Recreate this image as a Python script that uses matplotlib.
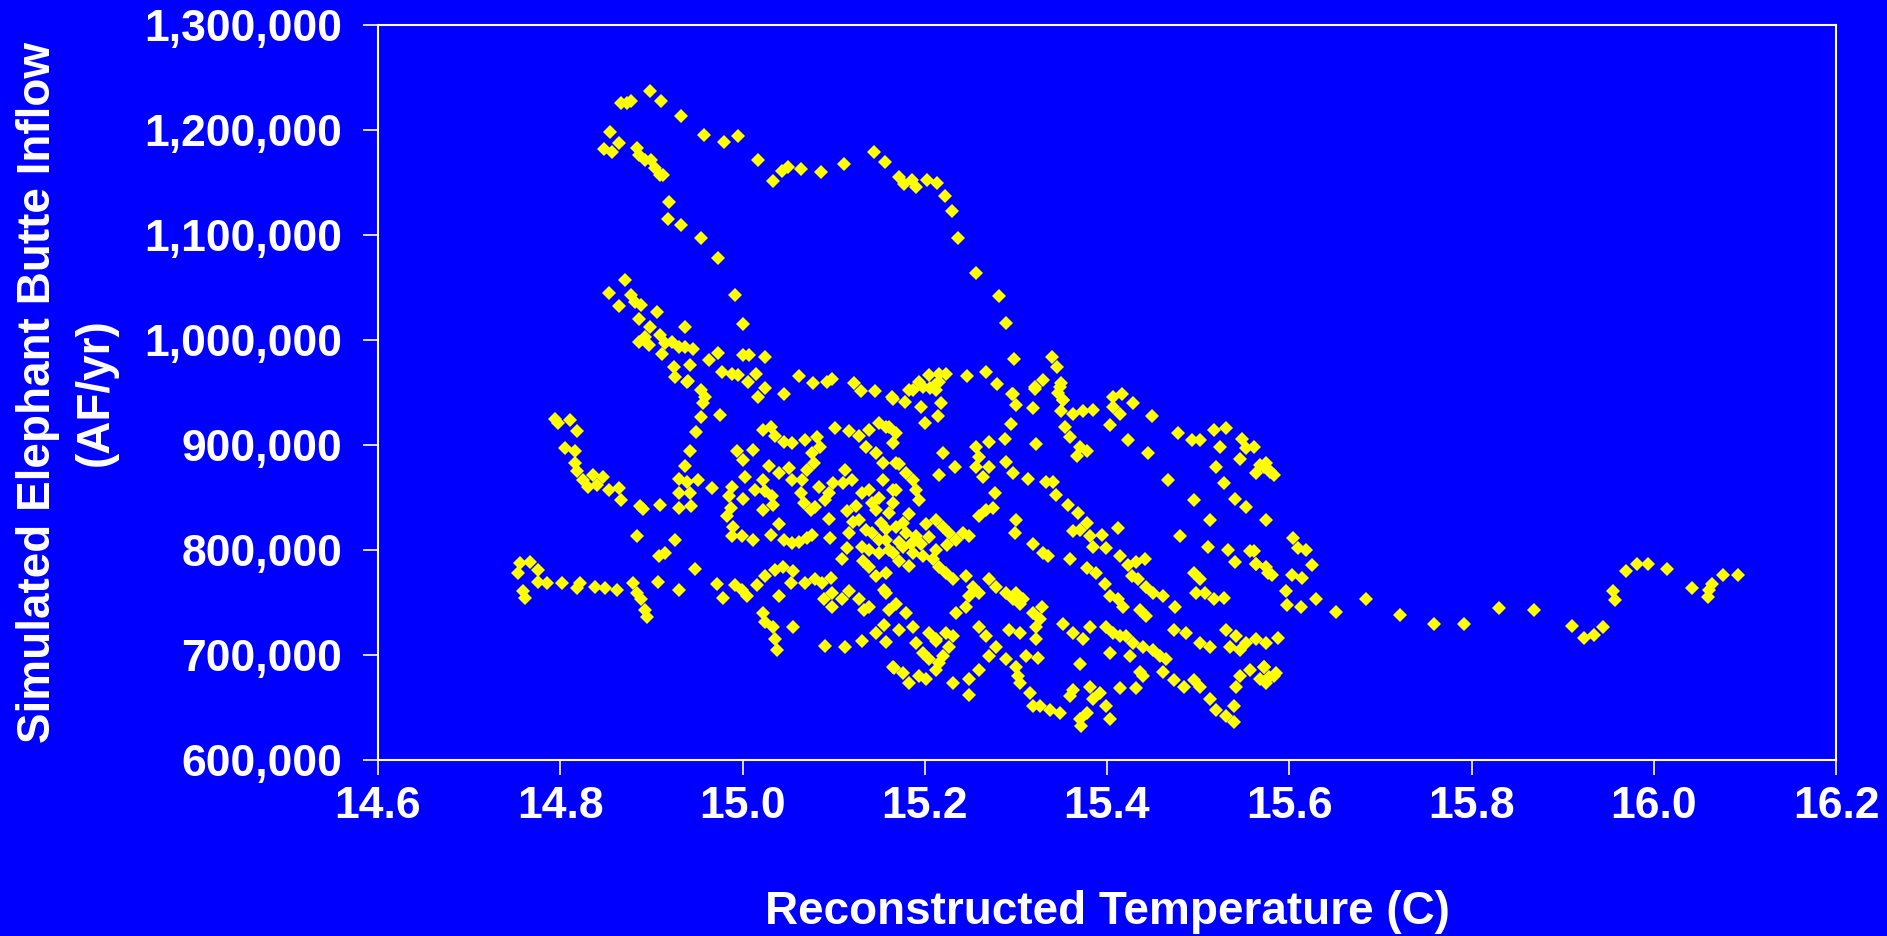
import matplotlib.pyplot as plt
from matplotlib.ticker import FuncFormatter

# reconstructed temperature (C), simulated inflow (thousand AF/yr)
upper_loop = [(14.899, 1237), (14.911, 1228), (14.867, 1226), (14.873, 1226), (14.878, 1228), (14.933, 1213),
              (14.958, 1195), (14.980, 1189), (14.995, 1194), (15.017, 1171), (15.034, 1151), (15.043, 1161),
              (15.050, 1165), (15.064, 1163), (15.086, 1160), (15.111, 1168), (15.144, 1179), (15.156, 1170),
              (15.172, 1155), (15.177, 1149), (15.186, 1152), (15.190, 1146), (15.203, 1152), (15.213, 1150),
              (15.222, 1137), (15.230, 1123), (15.236, 1097), (15.256, 1064), (15.281, 1042), (15.289, 1016),
              (15.298, 982)]
upper_left = [(14.855, 1198), (14.864, 1188), (14.848, 1182), (14.857, 1179), (14.884, 1183), (14.886, 1176),
              (14.893, 1171), (14.900, 1171), (14.904, 1164), (14.910, 1157), (14.913, 1157), (14.919, 1131),
              (14.918, 1115), (14.932, 1110), (14.954, 1097), (14.973, 1078), (14.992, 1043), (15.000, 1015)]
upper_mid = [(14.871, 1057), (14.854, 1045), (14.864, 1032), (14.878, 1043), (14.882, 1036), (14.889, 1033),
             (14.906, 1027), (14.886, 1020), (14.899, 1012), (14.893, 1003), (14.886, 998), (14.897, 995),
             (14.910, 1005), (14.915, 997), (14.923, 998), (14.930, 993), (14.937, 993), (14.946, 991),
             (14.912, 987), (14.937, 1012), (14.925, 974), (14.926, 965), (14.942, 976), (14.940, 961),
             (14.963, 981), (14.973, 988), (14.978, 970), (14.989, 968), (14.995, 967), (15.006, 960),
             (15.015, 968), (15.025, 984), (15.000, 986), (15.007, 986), (15.017, 946), (15.025, 954),
             (15.046, 949), (15.062, 966), (15.077, 959), (15.093, 960), (15.098, 963), (15.122, 959),
             (15.130, 951), (15.145, 951), (15.164, 946), (15.183, 952), (15.194, 960), (15.205, 967),
             (15.216, 968), (15.223, 968), (15.206, 954), (15.212, 952), (15.246, 966), (15.267, 970),
             (15.279, 958), (15.296, 949)]
ridge = [(15.340, 984), (15.345, 974), (15.330, 962), (15.321, 953), (15.350, 959), (15.346, 950), (15.352, 943)]
left_arm = [(14.794, 925), (14.798, 921), (14.811, 924), (14.818, 913), (14.805, 897), (14.816, 894),
            (14.816, 883), (14.818, 875), (14.825, 867), (14.831, 860), (14.836, 871), (14.840, 862),
            (14.847, 870), (14.854, 857), (14.864, 859), (14.867, 848), (14.888, 842), (14.891, 839),
            (14.909, 843)]
left_tail = [(14.756, 788), (14.767, 789), (14.754, 778), (14.776, 781), (14.776, 770), (14.785, 769),
             (14.802, 769), (14.818, 764), (14.822, 769), (14.838, 765), (14.849, 764), (14.862, 762),
             (14.759, 761), (14.761, 754), (14.880, 769), (14.884, 759), (14.889, 753), (14.893, 743),
             (14.895, 736)]
ring = [(14.939, 960), (14.954, 952), (14.959, 946), (14.957, 940), (14.955, 927), (14.975, 929), (14.949, 912),
        (14.942, 894), (14.937, 880), (14.930, 868), (14.939, 865), (14.951, 867), (14.930, 854), (14.942, 854),
        (14.944, 842), (14.930, 840), (14.966, 859), (14.884, 813), (14.926, 810), (14.908, 794), (14.915, 797),
        (14.948, 782), (14.907, 770), (14.930, 762), (14.972, 768), (14.979, 754),
        (14.988, 860), (14.985, 851), (14.987, 840), (14.983, 832), (14.990, 822), (14.988, 813), (14.999, 813),
        (15.012, 810), (14.994, 894), (15.011, 895), (15.001, 886), (15.003, 870), (15.001, 849), (15.014, 857),
        (15.025, 856), (15.032, 851), (15.034, 843), (15.023, 838), (15.022, 914), (15.031, 917), (15.036, 909),
        (15.045, 903), (15.054, 902), (15.069, 905), (15.082, 908), (15.085, 898), (15.076, 892), (15.078, 883),
        (15.071, 876), (15.065, 867), (15.064, 854), (15.067, 845), (15.075, 838), (15.080, 841), (15.029, 880),
        (15.023, 867), (15.040, 873), (15.051, 878), (15.054, 867), (15.040, 825), (15.031, 814), (15.045, 810),
        (15.054, 807), (15.062, 808), (15.071, 811), (15.076, 814), (15.095, 854), (15.099, 864), (15.084, 860),
        (15.090, 848), (15.095, 830), (15.110, 864), (15.096, 811), (15.109, 791), (15.115, 802), (15.117, 816),
        (15.121, 827), (15.115, 837)]
core = [(15.102, 916), (15.117, 913), (15.128, 909), (15.139, 914), (15.150, 921), (15.161, 917), (15.135, 898),
        (15.146, 892), (15.154, 883), (15.113, 876), (15.120, 867), (15.131, 854), (15.139, 857), (15.142, 845),
        (15.154, 867), (15.165, 857), (15.168, 883), (15.128, 829), (15.135, 819), (15.142, 816), (15.150, 810),
        (15.131, 803), (15.139, 800), (15.150, 797), (15.161, 800), (15.139, 784), (15.146, 775), (15.157, 778),
        (15.157, 917), (15.168, 911), (15.165, 902), (15.172, 882), (15.179, 873), (15.187, 867), (15.190, 857),
        (15.194, 848), (15.168, 857), (15.165, 845), (15.161, 835), (15.168, 822), (15.179, 816), (15.190, 813),
        (15.201, 825), (15.212, 829), (15.220, 822), (15.227, 816), (15.234, 810), (15.242, 816), (15.249, 813),
        (15.157, 810), (15.165, 797), (15.176, 803), (15.187, 797), (15.198, 794), (15.209, 791), (15.216, 784),
        (15.223, 778), (15.231, 772), (15.245, 775), (15.253, 765), (15.260, 759), (15.271, 772), (15.278, 765),
        (15.289, 759), (15.300, 759), (15.308, 753),
        (15.146, 838), (15.152, 826), (15.158, 820), (15.172, 808), (15.176, 826), (15.183, 834),
        (15.185, 806), (15.196, 806), (15.205, 812), (15.212, 800), (15.224, 805), (15.150, 850),
        (15.125, 842), (15.132, 790), (15.172, 790), (15.183, 785)]
low_center = [(14.992, 767), (14.999, 762), (15.005, 756), (15.016, 767), (15.025, 775), (15.036, 781),
              (15.044, 784), (15.040, 756), (15.022, 740), (15.025, 731), (15.033, 727), (15.036, 715),
              (15.038, 705), (15.055, 727), (15.055, 780), (15.053, 769), (15.069, 769), (15.080, 772),
              (15.087, 769), (15.097, 773), (15.098, 759), (15.089, 753), (15.098, 746), (15.109, 753),
              (15.117, 761), (15.128, 753), (15.133, 743), (15.139, 746), (15.155, 762), (15.161, 743),
              (15.146, 721), (15.131, 713), (15.157, 712), (15.113, 708), (15.091, 709), (15.166, 688),
              (15.155, 729)]
mid_top = [(15.165, 944), (15.178, 941), (15.196, 936), (15.200, 921), (15.214, 928), (15.218, 940),
           (15.187, 952), (15.198, 955), (15.211, 957), (15.216, 960), (15.297, 949), (15.300, 938),
           (15.319, 935), (15.321, 955), (15.348, 955), (15.352, 943), (15.350, 932), (15.363, 930),
           (15.374, 932), (15.385, 933), (15.354, 917), (15.359, 908), (15.370, 898), (15.378, 894),
           (15.367, 890), (15.407, 946), (15.416, 949), (15.429, 940), (15.407, 936), (15.414, 930),
           (15.403, 919), (15.449, 928), (15.423, 905), (15.445, 892)]
mid_diag = [(15.295, 920), (15.322, 901), (15.289, 884), (15.297, 873), (15.313, 868), (15.333, 865),
            (15.341, 865), (15.344, 852), (15.357, 843), (15.368, 835), (15.378, 826), (15.363, 818),
            (15.370, 819), (15.381, 813), (15.394, 814), (15.412, 821), (15.399, 802), (15.385, 803),
            (15.256, 898), (15.271, 903), (15.288, 906), (15.260, 889), (15.256, 879), (15.264, 870),
            (15.271, 879), (15.220, 892), (15.233, 879), (15.216, 871), (15.277, 854), (15.267, 838),
            (15.260, 832), (15.275, 840), (15.300, 829), (15.299, 816), (15.319, 806), (15.330, 797),
            (15.335, 794)]
mid_low = [(15.414, 794), (15.423, 786), (15.432, 789), (15.442, 791), (15.427, 775), (15.434, 772),
           (15.443, 765), (15.451, 759), (15.462, 756), (15.475, 746), (15.436, 743), (15.443, 737),
           (15.495, 778), (15.502, 772), (15.498, 759), (15.508, 759), (15.517, 753), (15.528, 754),
           (15.359, 791), (15.378, 783), (15.388, 778), (15.398, 768), (15.403, 756), (15.418, 746),
           (15.412, 753), (15.297, 753), (15.304, 749), (15.319, 740), (15.326, 734), (15.322, 727),
           (15.329, 746)]
right_arm = [(15.478, 911), (15.493, 905), (15.502, 905), (15.517, 914), (15.531, 916), (15.524, 898),
             (15.548, 906), (15.553, 897), (15.546, 887), (15.568, 881), (15.579, 875), (15.520, 879),
             (15.528, 864), (15.467, 867), (15.495, 848), (15.541, 849), (15.552, 841), (15.513, 829),
             (15.575, 829), (15.480, 813), (15.511, 803), (15.533, 800), (15.557, 799), (15.541, 789),
             (15.564, 787), (15.577, 778), (15.561, 898), (15.572, 879), (15.579, 874), (15.564, 873),
             (15.583, 871), (15.575, 883), (15.604, 811), (15.610, 802), (15.618, 800), (15.561, 799),
             (15.564, 787), (15.574, 784), (15.581, 776), (15.625, 786), (15.603, 776), (15.614, 773),
             (15.596, 761), (15.597, 748), (15.613, 746), (15.629, 753)]
bottom = [(15.157, 759), (15.168, 749), (15.179, 740), (15.187, 727), (15.172, 724), (15.190, 711),
          (15.205, 721), (15.212, 715), (15.223, 721), (15.227, 708), (15.220, 699), (15.234, 740),
          (15.245, 746), (15.249, 756), (15.260, 727), (15.267, 718), (15.278, 708), (15.293, 724),
          (15.304, 721), (15.322, 715), (15.311, 699), (15.289, 696), (15.300, 689), (15.271, 699),
          (15.260, 686), (15.352, 730), (15.363, 721), (15.374, 715), (15.381, 727), (15.399, 727),
          (15.407, 721), (15.414, 718), (15.421, 718), (15.429, 711), (15.440, 708), (15.451, 705),
          (15.458, 699), (15.465, 696), (15.403, 702), (15.425, 699), (15.370, 691), (15.473, 724),
          (15.487, 721), (15.502, 711), (15.513, 708), (15.531, 724), (15.542, 718), (15.553, 711),
          (15.564, 715), (15.575, 711), (15.535, 708), (15.588, 716), (15.572, 689), (15.586, 683),
          (15.578, 679), (15.546, 705)]
floor = [(15.198, 702), (15.205, 696), (15.216, 692), (15.231, 673), (15.249, 677), (15.249, 662),
         (15.165, 689), (15.176, 683), (15.183, 673), (15.194, 680), (15.201, 677), (15.212, 686),
         (15.212, 713), (15.231, 718), (15.304, 673), (15.315, 664), (15.319, 651), (15.326, 651),
         (15.337, 648), (15.348, 645), (15.359, 661), (15.363, 667), (15.370, 639), (15.378, 645),
         (15.385, 658), (15.392, 664), (15.399, 651), (15.403, 639), (15.381, 670), (15.372, 632),
         (15.324, 697), (15.302, 680), (15.414, 669), (15.432, 669), (15.440, 680), (15.436, 684),
         (15.462, 684), (15.473, 676), (15.484, 670), (15.495, 676), (15.502, 670), (15.513, 658),
         (15.520, 648), (15.531, 642), (15.539, 636), (15.539, 651), (15.542, 670), (15.546, 680),
         (15.557, 686), (15.572, 689), (15.583, 680), (15.575, 673), (15.568, 677)]
right_tail = [(15.651, 741), (15.684, 753), (15.722, 738), (15.759, 730), (15.792, 730), (15.830, 745),
              (15.869, 743), (15.910, 728), (15.923, 716), (15.934, 719), (15.944, 727), (15.957, 752),
              (15.955, 761), (15.970, 780), (15.982, 787), (15.994, 787), (16.014, 782), (16.042, 764),
              (16.059, 755), (16.061, 762), (16.064, 768), (16.076, 776), (16.092, 776)]

x_ticks = [14.6, 14.8, 15.0, 15.2, 15.4, 15.6, 15.8, 16.0, 16.2]
y_ticks = [600000, 700000, 800000, 900000, 1000000, 1100000, 1200000, 1300000]

groups = [upper_loop, upper_left, upper_mid, ridge, left_arm, left_tail, ring, core, low_center,
          mid_top, mid_diag, mid_low, right_arm, bottom, floor, right_tail]
temp = [p[0] for g in groups for p in g]
flow = [p[1] * 1000 for g in groups for p in g]

plt.rcParams['font.family'] = ['Liberation Sans', 'DejaVu Sans']
plt.rcParams['font.weight'] = 'bold'

blue = '#0000ff'
fig = plt.figure(figsize=(18.87, 9.36), dpi=100, facecolor=blue)
ax = fig.add_axes([378 / 1887, 1 - 760 / 936, 1458 / 1887, 735 / 936])
ax.set_facecolor(blue)

ax.plot(temp, flow, linestyle='none', marker='D', markersize=7.3,
        color='#ffff00', markeredgewidth=0)

ax.set_xlim(14.6, 16.2)
ax.set_ylim(600000, 1300000)
ax.set_xticks(x_ticks)
ax.set_xticklabels(['%.1f' % t for t in x_ticks])
ax.set_yticks(y_ticks)
ax.yaxis.set_major_formatter(FuncFormatter(lambda v, p: '{:,.0f}'.format(v)))

for s in ax.spines.values():
    s.set_color('white')
    s.set_linewidth(1.5)
ax.tick_params(direction='out', length=10.8, width=1.2, color='white',
               labelcolor='white', labelsize=32)
ax.tick_params(axis='y', pad=15)
ax.tick_params(axis='x', pad=8)

fig.text(38 / 1887, 1 - 392 / 936, 'Simulated Elephant Butte Inflow', rotation=90,
         ha='center', va='center', color='white', fontsize=33, fontweight='bold')
fig.text(96 / 1887, 1 - 392 / 936, '(AF/yr)', rotation=90,
         ha='center', va='center', color='white', fontsize=33, fontweight='bold')
fig.text(1107 / 1887, 1 - 912 / 936, 'Reconstructed Temperature (C)',
         ha='center', va='center', color='white', fontsize=33, fontweight='bold')

fig.savefig('out.png', dpi=100, facecolor=blue)
